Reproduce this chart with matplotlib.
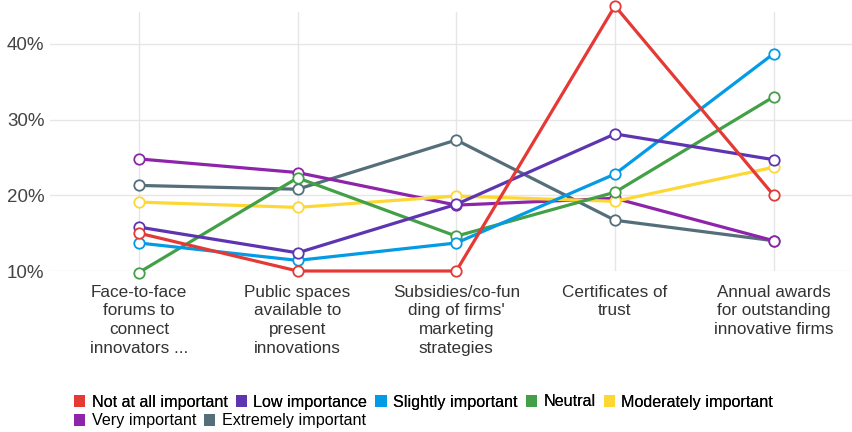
import numpy as np
import matplotlib.pyplot as plt
from matplotlib.patches import Patch

plt.rcParams['font.family'] = ['Liberation Sans', 'DejaVu Sans']

# categories and series values (percent)
categories = ["Face-to-face\nforums to\nconnect\ninnovators ...",
              "Public spaces\navailable to\npresent\ninnovations",
              "Subsidies/co-fun\nding of firms'\nmarketing\nstrategies",
              "Certificates of\ntrust",
              "Annual awards\nfor outstanding\ninnovative firms"]

not_at_all = [15.0, 10.0, 10.0, 45.0, 20.0]
low_imp = [15.8, 12.4, 18.8, 28.1, 24.7]
slightly = [13.7, 11.4, 13.7, 22.8, 38.7]
neutral = [9.8, 22.3, 14.6, 20.4, 33.0]
moderately = [19.1, 18.4, 19.9, 19.2, 23.7]
very = [24.8, 23.0, 18.7, 19.6, 14.0]
extremely = [21.3, 20.8, 27.3, 16.7, 14.0]

names = ["Not at all important", "Low importance", "Slightly important", "Neutral",
         "Moderately important", "Very important", "Extremely important"]
colors = ["#e53935", "#5e35b1", "#039be5", "#43a047", "#fdd835", "#8e24aa", "#546e7a"]
series = [not_at_all, low_imp, slightly, neutral, moderately, very, extremely]

fig = plt.figure(figsize=(8.53, 4.32), dpi=100)
ax = fig.add_axes([50/853, 161/432, 803/853, 259/432])

x = np.arange(len(categories))
# draw in reverse so "Not at all important" ends up on top
for vals, c in list(zip(series, colors))[::-1]:
    ax.plot(x, vals, color=c, lw=2.3, marker='o', ms=7.5, mfc='white', mec=c,
            mew=1.3, clip_on=False, zorder=3)

ax.set_xlim(-0.56, 4.5)
ax.set_ylim(10, 44.2)
ax.set_yticks([10, 20, 30, 40])
ax.set_yticklabels(["10%", "20%", "30%", "40%"], fontsize=13.5, color='#444444')
ax.set_xticks(x)
ax.set_xticklabels(categories, fontsize=12.3, color='#333333', linespacing=1.3, va='top')
ax.tick_params(axis='both', length=0)
ax.tick_params(axis='x', pad=10)
ax.tick_params(axis='y', pad=4)
ax.grid(True, color='#e6e6e6', lw=1)
ax.set_axisbelow(True)
for s in ax.spines.values():
    s.set_visible(False)

# legend, two rows
h = [Patch(facecolor=c, edgecolor='none') for c in colors]
kw = dict(frameon=False, fontsize=11.6, handlelength=0.7, handleheight=0.7,
          handletextpad=0.4, columnspacing=0.5, borderpad=0, borderaxespad=0)
leg1 = fig.legend(h[:5], names[:5], loc='center left', bbox_to_anchor=(74/853, 1 - 402/432),
                  ncol=5, **kw)
fig.add_artist(leg1)
fig.legend(h[5:], names[5:], loc='center left', bbox_to_anchor=(74/853, 1 - 421/432),
           ncol=2, **kw)

plt.savefig("out.png", dpi=100)
